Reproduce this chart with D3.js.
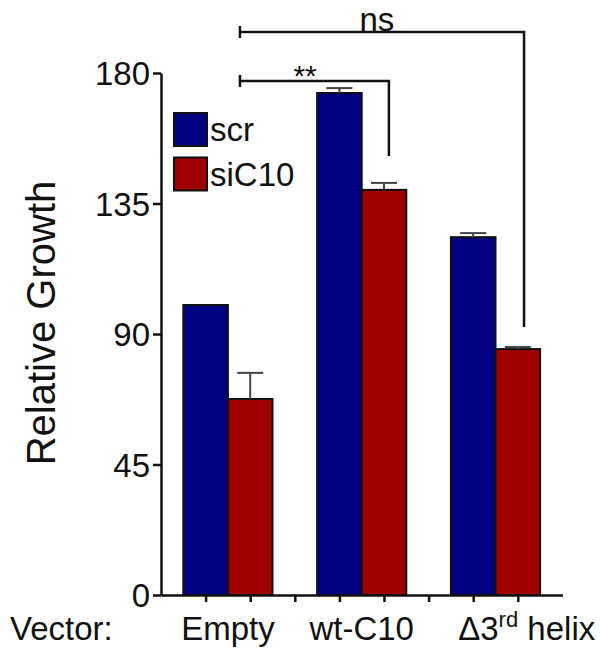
<!DOCTYPE html>
<html>
<head>
<meta charset="utf-8">
<script src="https://cdn.jsdelivr.net/npm/d3@7"></script>
<style>
body { margin: 0; background: #fff; }
text { font-family: "Liberation Sans", Arial, sans-serif; fill: #111; }
.axis path, .axis line { stroke: #111; stroke-width: 2.5px; }
.bar { stroke: #111; stroke-width: 2px; }
.err { stroke: #444; stroke-width: 2px; }
.bracket { fill: none; stroke: #111; stroke-width: 2.5px; }
</style>
</head>
<body>
<script>
//Data
const categories = ["Empty", "wt-C10", "\u03943rd helix"];
const seriesNames = ["scr", "siC10"];
const scrValues = [100, 173.1, 123.4];
const scrErrors = [0, 1.7, 1.4];
const siValues = [67.6, 139.7, 84.8];
const siErrors = [9, 2.4, 0.7];
const yTicks = [0, 45, 90, 135, 180];
const colors = ["#000080", "#9e0000"];

//significance brackets (x in bar slots, y in data units)
const brackets = [
    {label: "**", x0: 0.77, x1: 4.11, y: 177.2, yEnd: 151.4, lx: 2.23},
    {label: "ns", x0: 0.77, x1: 7.14, y: 194.1, yEnd: 92.4, lx: 3.84}
];

//Global variables
const width = 601;
const height = 652;
const plotLeft = 161;
const plotRight = 562.4;
const plotTop = 73;
const plotBottom = 595;

//bar slot index for each value: groups of 3 slots (scr, siC10, blank)
const bars = [];
categories.forEach((c, i) => {
    bars.push({cat: c, s: 0, slot: i * 3, v: scrValues[i], e: scrErrors[i]});
    bars.push({cat: c, s: 1, slot: i * 3 + 1, v: siValues[i], e: siErrors[i]});
});

//Scales
const xScale = d3.scaleLinear()
    .domain([-1, 8])
    .range([plotLeft, plotRight]);
const slotW = xScale(1) - xScale(0);

const yScale = d3.scaleLinear()
    .domain([0, 180])
    .range([plotBottom, plotTop]);

//SVG element
const svg = d3.select("body")
    .append("svg")
    .attr("width", width)
    .attr("height", height);

//Bars
svg.selectAll(".bar")
    .data(bars)
    .enter()
    .append("rect")
    .attr("class", "bar")
    .attr("x", d => xScale(d.slot) - slotW / 2)
    .attr("y", d => yScale(d.v))
    .attr("width", slotW)
    .attr("height", d => yScale(0) - yScale(d.v))
    .style("fill", d => colors[d.s]);

//Error bars (upper only)
const errBars = bars.filter(d => d.e > 0);
svg.selectAll(".errStem")
    .data(errBars)
    .enter()
    .append("line")
    .attr("class", "err")
    .attr("x1", d => xScale(d.slot))
    .attr("x2", d => xScale(d.slot))
    .attr("y1", d => yScale(d.v))
    .attr("y2", d => yScale(d.v + d.e));

svg.selectAll(".errCap")
    .data(errBars)
    .enter()
    .append("line")
    .attr("class", "err")
    .attr("x1", d => xScale(d.slot) - 13)
    .attr("x2", d => xScale(d.slot) + 13)
    .attr("y1", d => yScale(d.v + d.e))
    .attr("y2", d => yScale(d.v + d.e));

//Axes
const leftAxis = d3.axisLeft(yScale)
    .tickValues(yTicks)
    .tickSize(8)
    .tickPadding(3)
    .tickSizeOuter(0);

const bottomAxis = d3.axisBottom(xScale)
    .tickValues(d3.range(0, 8))
    .tickFormat("")
    .tickSize(7)
    .tickSizeOuter(0);

svg.append("g")
    .attr("class", "axis")
    .attr("transform", "translate(0," + plotBottom + ")")
    .call(bottomAxis);

svg.append("g")
    .attr("class", "axis")
    .attr("transform", "translate(" + plotLeft + ",0)")
    .call(leftAxis)
    .selectAll("text")
    .style("font-size", "33px")
    .attr("dy", "0.36em");

//Category labels
const catX = [0.5, 3.5, 7.2];
svg.selectAll(".cat")
    .data(categories)
    .enter()
    .append("text")
    .attr("class", "cat")
    .attr("x", (d, i) => xScale(catX[i]))
    .attr("y", 640)
    .attr("text-anchor", "middle")
    .style("font-size", "33px")
    .each(function(d) {
        const t = d3.select(this);
        if (d.indexOf("3rd") >= 0) {
            t.append("tspan").text("\u03943");
            t.append("tspan").text("rd").attr("dy", -13).style("font-size", "22px");
            t.append("tspan").text(" helix").attr("dy", 13);
        } else {
            t.text(d);
        }
    });

svg.append("text")
    .attr("x", 10)
    .attr("y", 640)
    .style("font-size", "33px")
    .text("Vector:");

//Y axis label
svg.append("text")
    .attr("transform", "translate(55," + 323 + ") rotate(-90)")
    .attr("text-anchor", "middle")
    .style("font-size", "40px")
    .text("Relative Growth");

//Legend
const legend = svg.selectAll(".legend")
    .data(seriesNames)
    .enter()
    .append("g")
    .attr("transform", (d, i) => "translate(174," + (113 + i * 44.5) + ")");

legend.append("rect")
    .attr("class", "bar")
    .attr("width", 33)
    .attr("height", 33)
    .style("fill", (d, i) => colors[i]);

legend.append("text")
    .attr("x", 36)
    .attr("y", 28)
    .style("font-size", "33px")
    .text(d => d);

//Significance brackets
svg.selectAll(".bracket")
    .data(brackets)
    .enter()
    .append("path")
    .attr("class", "bracket")
    .attr("d", d => {
        const x0 = xScale(d.x0), x1 = xScale(d.x1), y = yScale(d.y);
        return "M" + x0 + "," + (y - 6) + "V" + (y + 6) +
            "M" + x0 + "," + y + "H" + x1 + "V" + yScale(d.yEnd);
    });

svg.selectAll(".sig")
    .data(brackets)
    .enter()
    .append("text")
    .attr("x", d => xScale(d.lx))
    .attr("y", d => d.label === "**" ? yScale(d.y) + 5 : yScale(d.y) - 1)
    .attr("text-anchor", "middle")
    .style("font-size", d => d.label === "**" ? "30px" : "33px")
    .text(d => d.label);
</script>
</body>
</html>
